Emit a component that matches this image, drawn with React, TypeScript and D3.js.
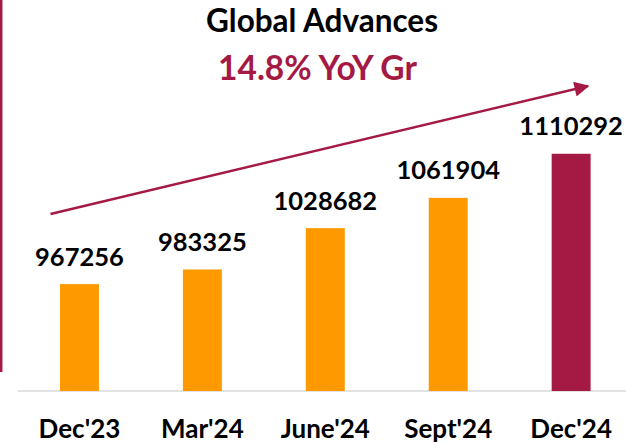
import React from "react";
import * as d3 from "d3";

const categories = ["Dec'23", "Mar'24", "June'24", "Sept'24", "Dec'24"];
const values = [967256, 983325, 1028682, 1061904, 1110292];
const highlighted = [false, false, false, false, true];
const title = "Global Advances";
const subtitle = "14.8% YoY Gr";

const W = 626;
const H = 443;
const ORANGE = "#FF9900";
const MAROON = "#A51A45";
const FONT = "Lato, 'Open Sans', sans-serif";

export default function App() {
  const x = d3
    .scaleBand<string>()
    .domain(categories)
    .range([18, 632.6])
    .paddingInner(0.683)
    .paddingOuter(0.3415);
  const y = d3.scaleLinear().domain([850000, 1200000]).range([391, 72]);
  const base = y(850000);

  return (
    <svg
      width={W}
      height={H}
      style={{ position: "fixed", left: 0, top: 0, background: "#fff" }}
      fontFamily={FONT}
    >
      <defs>
        <marker
          id="ah"
          viewBox="0 0 10 10"
          refX="9"
          refY="5"
          markerWidth="7"
          markerHeight="6"
          markerUnits="strokeWidth"
          orient="auto"
        >
          <path d="M0,0 L10,5 L0,10 Z" fill={MAROON} />
        </marker>
      </defs>
      <rect width={W} height={H} fill="#fff" />
      <line x1={1.2} y1={0} x2={1.2} y2={372} stroke={MAROON} strokeWidth={2.5} />
      <text x={322} y={32} textAnchor="middle" fontWeight={700} fontSize={31.5} fill="#000">
        {title}
      </text>
      <text x={317.5} y={80} textAnchor="middle" fontWeight={700} fontSize={33.5} fill={MAROON}>
        {subtitle}
      </text>
      <line x1={18} y1={391} x2={W} y2={391} stroke="#D9D9D9" strokeWidth={1.5} />
      {categories.map((c, i) => {
        const bx = x(c)!;
        const bw = x.bandwidth();
        const top = y(values[i]);
        return (
          <g key={c}>
            <rect
              x={bx}
              y={top}
              width={bw}
              height={base - top}
              fill={highlighted[i] ? MAROON : ORANGE}
            />
            <text
              x={bx + bw / 2}
              y={top - 18.5}
              textAnchor="middle"
              fontWeight={700}
              fontSize={25.5}
              fill="#000"
            >
              {values[i]}
            </text>
            <text
              x={bx + bw / 2}
              y={438}
              textAnchor="middle"
              fontWeight={700}
              fontSize={26}
              fill="#000"
            >
              {c}
            </text>
          </g>
        );
      })}
      <line
        x1={50.5}
        y1={214}
        x2={588}
        y2={86}
        stroke={MAROON}
        strokeWidth={2.5}
        markerEnd="url(#ah)"
      />
    </svg>
  );
}
